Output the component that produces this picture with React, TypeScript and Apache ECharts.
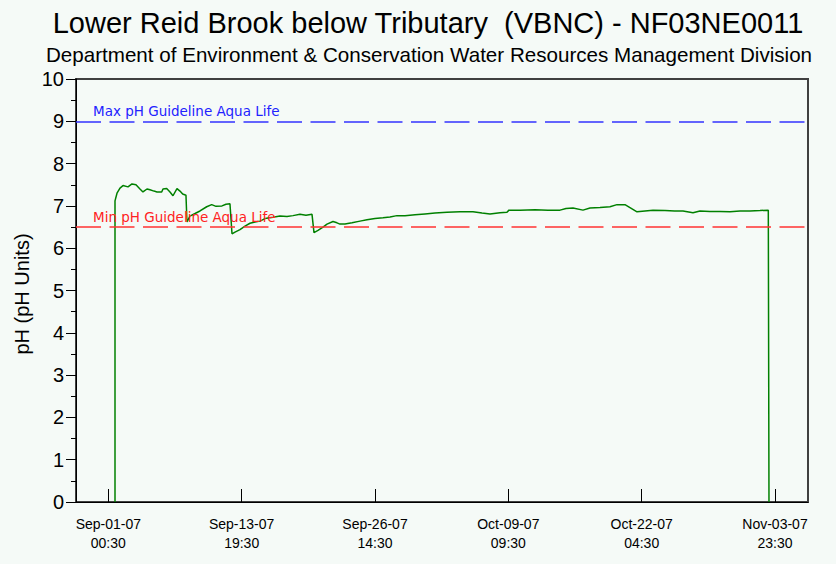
import React, { useEffect, useRef } from "react";
import * as echarts from "echarts";

// Hours elapsed since Sep-01-07 00:30
const hoursSinceStart = [
  15.4, 15.4, 20, 26.9, 33.8, 45.3, 54.5, 63.7, 72.9, 79.8, 89.0, 95.9, 105.2, 112.1,
  122.9, 125.9, 134.4, 142.0, 148.9, 158.1, 165.0, 171.2, 178.8, 181.1, 188.0, 199.6,
  211.1, 226.5, 238.0, 247.9, 261.7, 270.9, 280.1, 284.8, 291.7, 303.2, 314.7, 326.2,
  337.7, 349.2, 360.7, 379.2, 395.3, 411.4, 425.2, 441.3, 455.1, 469.0, 473.6, 482.8,
  494.3, 503.5, 517.3, 526.5, 533.4, 544.9, 561.0, 579.5, 595.6, 614.0, 632.4, 648.5,
  664.7, 683.1, 706.1, 729.1, 752.2, 779.8, 809.7, 839.7, 860.4, 878.8, 901.8, 917.9,
  922.5, 947.9, 982.4, 1012.3, 1040.0, 1053.8, 1069.9, 1092.9, 1109.0, 1132.1, 1155.1,
  1171.2, 1189.6, 1201.1, 1217.3, 1235.7, 1254.1, 1281.7, 1304.0, 1323.2, 1346.2,
  1362.3, 1385.3, 1408.4, 1431.4, 1454.4, 1477.5, 1500.5, 1519.6, 1521.2,
];
const phValues = [
  0, 7.12, 7.3, 7.42, 7.48, 7.45, 7.52, 7.5, 7.4, 7.33, 7.4, 7.38, 7.35, 7.33,
  7.33, 7.4, 7.41, 7.33, 7.24, 7.41, 7.35, 7.28, 7.25, 6.62, 6.76, 6.82,
  6.88, 6.98, 7.03, 6.99, 7.0, 7.04, 7.05, 6.34, 6.38, 6.44, 6.52, 6.59,
  6.62, 6.64, 6.7, 6.73, 6.76, 6.75, 6.77, 6.8, 6.78, 6.8, 6.37, 6.42,
  6.5, 6.57, 6.63, 6.6, 6.57, 6.57, 6.6, 6.64, 6.67, 6.7, 6.72, 6.74,
  6.77, 6.77, 6.79, 6.81, 6.83, 6.85, 6.86, 6.86, 6.83, 6.81, 6.84, 6.85,
  6.9, 6.9, 6.91, 6.9, 6.9, 6.94, 6.95, 6.9, 6.95, 6.96, 6.98,
  7.03, 7.03, 6.96, 6.86, 6.88, 6.9, 6.89, 6.88, 6.88, 6.84,
  6.88, 6.87, 6.87, 6.86, 6.88, 6.88, 6.89, 6.9, 0,
];

const tickHours = [0, 307, 614, 921, 1228, 1535];
const tickLabels = [
  "Sep-01-07\n00:30",
  "Sep-13-07\n19:30",
  "Sep-26-07\n14:30",
  "Oct-09-07\n09:30",
  "Oct-22-07\n04:30",
  "Nov-03-07\n23:30",
];
const xMinHours = -74.4;
const xMaxHours = 1611;

const maxGuideline = 9;
const minGuideline = 6.5;
const maxLabel = "Max pH Guideline Aqua Life";
const minLabel = "Min pH Guideline Aqua Life";

const titleText = "Lower Reid Brook below Tributary  (VBNC) - NF03NE0011";
const subtitleText =
  "Department of Environment & Conservation Water Resources Management Division";
const yAxisTitle = "pH (pH Units)";

const BG = "#f5faf7";
const SANS = "Liberation Sans, Arial, sans-serif";

export default function App() {
  const ref = useRef<HTMLDivElement>(null);

  useEffect(() => {
    document.body.style.margin = "0";
    document.body.style.background = BG;
    if (!ref.current) return;
    const chart = echarts.init(ref.current, undefined, { renderer: "svg" });
    const data = hoursSinceStart.map((h, i) => [h, phValues[i]]);
    chart.setOption({
      animation: false,
      backgroundColor: BG,
      grid: {
        left: 76,
        right: 28,
        top: 79,
        bottom: 62,
        show: true,
        borderColor: "#404040",
        borderWidth: 2,
        backgroundColor: "transparent",
      },
      graphic: [
        {
          type: "text",
          x: 428,
          y: 8,
          style: {
            text: titleText,
            fontFamily: SANS,
            fontSize: 29,
            fill: "#000",
            align: "center",
            verticalAlign: "top",
          },
        },
        {
          type: "text",
          x: 429,
          y: 44,
          style: {
            text: subtitleText,
            fontFamily: SANS,
            fontSize: 20.6,
            fill: "#000",
            align: "center",
            verticalAlign: "top",
          },
        },
        {
          type: "text",
          x: 22,
          y: 294,
          rotation: Math.PI / 2,
          style: {
            text: yAxisTitle,
            fontFamily: SANS,
            fontSize: 20,
            fill: "#000",
            align: "center",
            verticalAlign: "middle",
          },
        },
      ],
      xAxis: {
        type: "value",
        min: xMinHours,
        max: xMaxHours,
        splitLine: { show: false },
        axisLine: { onZero: false, lineStyle: { color: "#000", width: 1 } },
        axisTick: {
          customValues: tickHours,
          inside: true,
          length: 13,
          lineStyle: { color: "#000" },
        },
        axisLabel: {
          customValues: tickHours,
          formatter: (v: number) => {
            const idx = tickHours.indexOf(Math.round(v));
            return idx >= 0 ? tickLabels[idx] : "";
          },
          fontFamily: SANS,
          fontSize: 14,
          lineHeight: 19,
          color: "#000",
          margin: 12,
        },
      },
      yAxis: {
        type: "value",
        min: 0,
        max: 10,
        interval: 1,
        splitLine: { show: false },
        axisLine: { show: true, onZero: false, lineStyle: { color: "#000", width: 1 } },
        axisTick: { show: true, length: 10, lineStyle: { color: "#000" } },
        minorTick: { show: true, splitNumber: 2, length: 5, lineStyle: { color: "#000" } },
        axisLabel: {
          fontFamily: SANS,
          fontSize: 20,
          color: "#000",
          margin: 12,
        },
      },
      series: [
        {
          type: "line",
          data,
          showSymbol: false,
          symbol: "none",
          lineStyle: { color: "#008000", width: 1.5 },
          markLine: {
            symbol: "none",
            silent: true,
            data: [
              {
                yAxis: maxGuideline,
                lineStyle: { color: "#3333ff", type: [25, 8.5], width: 1.5 },
                label: {
                  formatter: maxLabel,
                  position: "insideStartTop",
                  color: "#2222ff",
                  fontFamily: "DejaVu Sans, Verdana, sans-serif",
                  fontSize: 13.5,
                  distance: [17, 3],
                },
              },
              {
                yAxis: minGuideline,
                lineStyle: { color: "#ff3333", type: [25, 8.5], width: 1.5 },
                label: {
                  formatter: minLabel,
                  position: "insideStartTop",
                  color: "#ff2222",
                  fontFamily: "DejaVu Sans, Verdana, sans-serif",
                  fontSize: 13.5,
                  distance: [17, 3],
                },
              },
            ],
          },
        },
      ],
    });
    return () => chart.dispose();
  }, []);

  return <div ref={ref} style={{ width: 836, height: 564 }} />;
}
